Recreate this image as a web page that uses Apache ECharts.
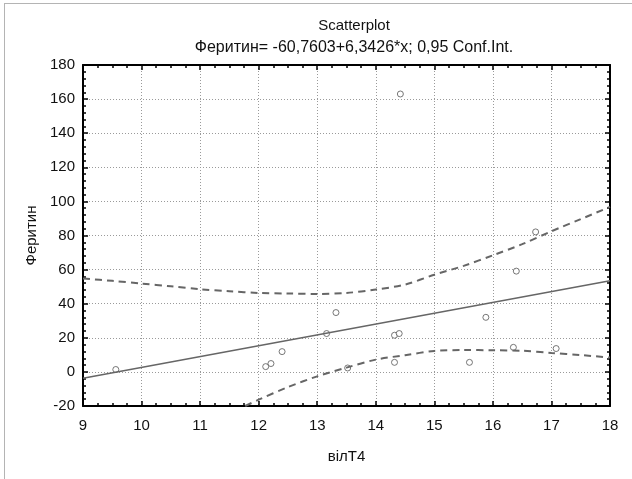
<!DOCTYPE html>
<html>
<head>
<meta charset="utf-8">
<script src="https://cdn.jsdelivr.net/npm/echarts@6/dist/echarts.min.js"></script>
<style>
body { margin: 0; background: #fff; }
#wrap { position: relative; width: 632px; height: 479px; overflow: hidden; }
#chart { width: 632px; height: 479px; }
#frame { position: absolute; left: 4px; top: 3px; width: 700px; height: 600px;
    border-top: 1px solid #b4b4b4; border-left: 1px solid #b4b4b4; pointer-events: none; }
</style>
</head>
<body>
<div id="wrap">
    <div id="chart"></div>
    <div id="frame"></div>
</div>
<script>
// scatter points (вілТ4, Феритин)
var pointX = [9.56, 12.12, 12.21, 12.40, 13.16, 13.32, 13.52, 14.32, 14.40, 14.32, 14.42, 15.60, 15.88, 16.35, 16.40, 16.73, 17.08]
var pointY = [1.4, 3.1, 4.9, 11.9, 22.5, 34.8, 2.3, 21.5, 22.5, 5.6, 163, 5.6, 32, 14.4, 59.1, 82.1, 13.7]

// regression line ends
var fitX = [9, 18]
var fitY = [-3.7, 53.4]

// 0,95 confidence band
var upperX = [9, 9.5, 10, 10.5, 11, 11.5, 12, 12.5, 13, 13.5, 14, 14.5, 15, 15.5, 16, 16.5, 17, 17.5, 18]
var upperY = [54.8, 53.4, 51.8, 50.2, 48.5, 47.3, 46.3, 46.0, 45.7, 46.3, 48.3, 51.2, 57.0, 62.2, 68.4, 74.9, 82.5, 89.6, 96.8]
var lowerX = [11.77, 12, 12.5, 13, 13.5, 14, 14.5, 15, 15.5, 16, 16.5, 17, 17.5, 18]
var lowerY = [-20, -16.3, -8.9, -2.6, 2.5, 7.2, 9.8, 12.3, 12.8, 12.7, 12.4, 11.1, 9.9, 8.4]

var xTicks = [9, 18, 1]
var yTicks = [-20, 180, 20]

function pairs (xs, ys) {
    return xs.map(function (x, i) { return [x, ys[i]] })
}

var font = 'Liberation Sans, Arial, sans-serif'
var chart = echarts.init(document.getElementById('chart'))

var boxAxis = {
    type: 'value',
    axisLine: { show: true, onZero: false, lineStyle: { color: '#000', width: 2 } },
    axisTick: { show: true, inside: true, length: 5, lineStyle: { color: '#000', width: 1.5 } },
    minorTick: { show: true, length: 3, lineStyle: { color: '#000', width: 1.5 } }
}

chart.setOption({
    animation: false,
    title: {
        text: 'Scatterplot',
        subtext: 'Феритин= -60,7603+6,3426*x; 0,95 Conf.Int.',
        left: 349,
        textAlign: 'center',
        top: 13,
        itemGap: 7,
        textStyle: { fontFamily: font, fontSize: 15, fontWeight: 'normal', color: '#111' },
        subtextStyle: { fontFamily: font, fontSize: 16, color: '#111' }
    },
    grid: { left: 83, top: 65, width: 527, height: 341 },
    xAxis: [
        Object.assign({}, boxAxis, {
            position: 'bottom',
            min: xTicks[0], max: xTicks[1], interval: xTicks[2],
            minorTick: Object.assign({}, boxAxis.minorTick, { splitNumber: 4 }),
            name: 'вілТ4',
            nameLocation: 'middle',
            nameGap: 43,
            nameTextStyle: { fontFamily: font, fontSize: 15, color: '#111' },
            axisLabel: { fontFamily: font, fontSize: 15, color: '#111', margin: 12 },
            splitLine: { show: true, lineStyle: { color: '#9a9a9a', type: [1, 2], width: 1 } }
        }),
        Object.assign({}, boxAxis, {
            position: 'top',
            min: xTicks[0], max: xTicks[1], interval: xTicks[2],
            minorTick: Object.assign({}, boxAxis.minorTick, { splitNumber: 4 }),
            axisLabel: { show: false },
            splitLine: { show: false }
        })
    ],
    yAxis: [
        Object.assign({}, boxAxis, {
            position: 'left',
            min: yTicks[0], max: yTicks[1], interval: yTicks[2],
            minorTick: Object.assign({}, boxAxis.minorTick, { splitNumber: 5 }),
            name: 'Феритин',
            nameLocation: 'middle',
            nameGap: 44,
            nameTextStyle: { fontFamily: font, fontSize: 15, color: '#111' },
            axisLabel: { fontFamily: font, fontSize: 15, color: '#111', margin: 8 },
            splitLine: { show: true, lineStyle: { color: '#9a9a9a', type: [1, 2], width: 1 } }
        }),
        Object.assign({}, boxAxis, {
            position: 'right',
            min: yTicks[0], max: yTicks[1], interval: yTicks[2],
            minorTick: Object.assign({}, boxAxis.minorTick, { splitNumber: 5 }),
            axisLabel: { show: false },
            splitLine: { show: false }
        })
    ],
    series: [
        {
            name: 'upper',
            type: 'line',
            data: pairs(upperX, upperY),
            smooth: 0.3,
            symbol: 'none',
            lineStyle: { color: '#666', width: 2, type: [7, 5] }
        },
        {
            name: 'lower',
            type: 'line',
            data: pairs(lowerX, lowerY),
            smooth: 0.3,
            symbol: 'none',
            lineStyle: { color: '#666', width: 2, type: [7, 5] }
        },
        {
            name: 'fit',
            type: 'line',
            data: pairs(fitX, fitY),
            symbol: 'none',
            lineStyle: { color: '#666', width: 1.5 }
        },
        {
            name: 'points',
            type: 'scatter',
            data: pairs(pointX, pointY),
            symbol: 'circle',
            symbolSize: 6,
            itemStyle: { color: '#fff', borderColor: '#555', borderWidth: 1 }
        }
    ]
})
</script>
</body>
</html>
